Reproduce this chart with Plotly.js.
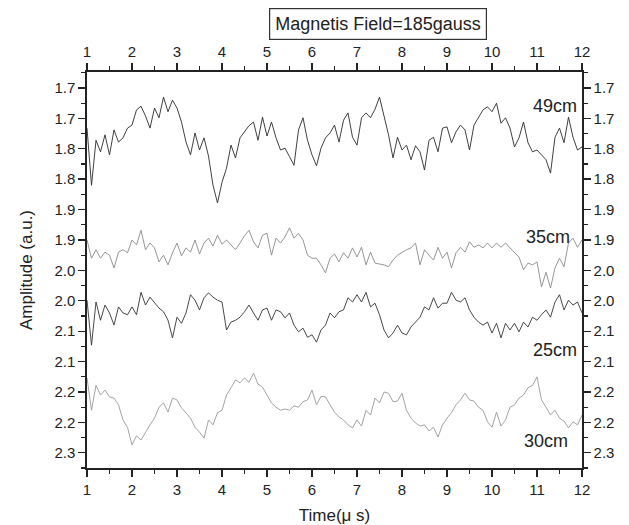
<!DOCTYPE html>
<html><head><meta charset="utf-8">
<script src="https://cdn.plot.ly/plotly-3.0.1.min.js"></script>
<style>html,body{margin:0;padding:0;background:#fff}#chart{width:629px;height:525px}</style>
</head><body><div id="chart"></div>
<script>
// time axis: samples every 0.1 µs from 1 to 12
const t0 = 1.0, dt = 0.1;
const s49 = [1.766,1.860,1.786,1.805,1.777,1.810,1.769,1.789,1.782,1.766,
1.761,1.736,1.730,1.746,1.766,1.733,1.749,1.715,1.739,1.720,
1.733,1.756,1.789,1.810,1.774,1.802,1.782,1.812,1.860,1.889,
1.855,1.832,1.794,1.815,1.782,1.772,1.762,1.756,1.786,1.748,
1.779,1.756,1.782,1.802,1.799,1.813,1.827,1.769,1.749,1.786,
1.810,1.828,1.799,1.782,1.774,1.761,1.789,1.753,1.741,1.781,
1.794,1.749,1.741,1.749,1.735,1.715,1.744,1.777,1.815,1.781,
1.802,1.794,1.818,1.795,1.805,1.835,1.786,1.781,1.805,1.766,
1.764,1.790,1.772,1.761,1.769,1.802,1.761,1.748,1.736,1.731,
1.739,1.725,1.758,1.749,1.766,1.797,1.782,1.756,1.790,1.805,
1.802,1.810,1.818,1.840,1.781,1.766,1.790,1.748,1.781,1.802,1.797];
const s35 = [1.950,1.980,1.966,1.980,1.970,1.975,1.996,1.970,1.966,1.971,
1.950,1.958,1.934,1.966,1.955,1.963,1.986,1.975,1.991,1.971,
1.955,1.976,1.963,1.970,1.950,1.973,1.955,1.947,1.960,1.942,
1.957,1.950,1.958,1.966,1.955,1.943,1.934,1.953,1.963,1.942,
1.939,1.975,1.947,1.955,1.945,1.930,1.947,1.939,1.950,1.975,
1.980,1.980,1.991,2.004,1.980,1.973,1.986,1.971,1.980,1.963,
1.978,1.962,1.991,1.970,1.988,1.989,1.991,1.994,1.983,1.975,
1.970,1.966,1.963,1.955,1.991,1.966,1.975,1.983,1.962,1.980,
1.970,1.996,1.971,1.962,1.970,1.953,1.962,1.958,1.963,1.955,
1.963,1.955,1.962,1.955,1.963,1.970,1.978,1.999,1.988,1.991,
1.986,2.027,2.003,2.029,1.996,1.980,1.994,1.955,1.947,1.962,1.950];
const s25 = [2.049,2.123,2.052,2.082,2.057,2.070,2.090,2.060,2.070,2.073,
2.060,2.073,2.036,2.057,2.044,2.054,2.062,2.068,2.082,2.111,
2.077,2.087,2.070,2.040,2.049,2.065,2.045,2.037,2.044,2.049,
2.052,2.098,2.085,2.082,2.077,2.068,2.057,2.070,2.082,2.065,
2.062,2.082,2.065,2.068,2.078,2.070,2.090,2.101,2.095,2.110,
2.106,2.118,2.098,2.090,2.070,2.078,2.068,2.065,2.045,2.052,
2.040,2.052,2.036,2.060,2.054,2.073,2.098,2.111,2.103,2.090,
2.103,2.106,2.093,2.085,2.077,2.060,2.065,2.045,2.062,2.054,
2.054,2.036,2.049,2.052,2.045,2.065,2.077,2.085,2.090,2.085,
2.103,2.087,2.111,2.087,2.098,2.087,2.101,2.085,2.093,2.077,
2.082,2.073,2.065,2.077,2.052,2.040,2.065,2.049,2.057,2.052,2.070];
const s30 = [2.177,2.230,2.189,2.205,2.197,2.208,2.210,2.221,2.246,2.258,
2.287,2.272,2.279,2.266,2.254,2.243,2.225,2.218,2.233,2.210,
2.213,2.226,2.234,2.243,2.258,2.266,2.276,2.246,2.254,2.234,
2.230,2.205,2.193,2.180,2.185,2.177,2.184,2.169,2.187,2.192,
2.205,2.218,2.225,2.230,2.228,2.230,2.223,2.225,2.216,2.213,
2.197,2.221,2.207,2.208,2.221,2.233,2.241,2.246,2.254,2.259,
2.246,2.256,2.230,2.238,2.210,2.218,2.200,2.202,2.216,2.215,
2.202,2.230,2.243,2.251,2.256,2.254,2.264,2.258,2.274,2.254,
2.243,2.234,2.221,2.213,2.202,2.213,2.215,2.225,2.230,2.249,
2.258,2.233,2.256,2.246,2.225,2.221,2.210,2.205,2.193,2.189,
2.175,2.213,2.225,2.238,2.230,2.243,2.248,2.259,2.249,2.254,2.238];
const seriesNames = ["49cm","35cm","25cm","30cm"];
const xTicks = [1,2,3,4,5,6,7,8,9,10,11,12];
const yTickVals = [1.70,1.75,1.80,1.85,1.90,1.95,2.00,2.05,2.10,2.15,2.20,2.25,2.30];
const yTickText = ["1.7","1.7","1.8","1.8","1.9","1.9","2.0","2.0","2.1","2.1","2.2","2.2","2.3"];
const titleText = "Magnetis Field=185gauss";

const time = s49.map((_, i) => +(t0 + i * dt).toFixed(2));
const colors = ["#2a2a2a", "#8a8a8a", "#333333", "#999999"];
const all = [s49, s35, s25, s30];
const traces = all.map((s, k) => ({
  x: time, y: s, type: "scatter", mode: "lines", name: seriesNames[k],
  xaxis: k === 1 ? "x2" : "x", yaxis: k === 1 ? "y2" : "y",
  line: {color: colors[k], width: 0.9}, hoverinfo: "skip"
}));

const fam = "Liberation Sans, Arial, sans-serif";
const font = {family: fam, size: 15, color: "#222"};
const xBase = {
  range: [1, 12], tickmode: "array", tickvals: xTicks, ticks: "outside", ticklen: 7,
  tickwidth: 1.4, tickcolor: "#222", showline: true, linecolor: "#222", linewidth: 1.6,
  showgrid: false, zeroline: false, tickfont: font,
  minor: {tickmode: "linear", tick0: 1, dtick: 0.5, ticks: "outside", ticklen: 4, tickwidth: 1.2, tickcolor: "#222"}
};
const yBase = {
  range: [2.325, 1.6737], tickmode: "array", tickvals: yTickVals, ticktext: yTickText,
  ticks: "outside", ticklen: 7, tickwidth: 1.4, tickcolor: "#222", showline: true,
  linecolor: "#222", linewidth: 1.6, showgrid: false, zeroline: false, tickfont: font,
  minor: {tickmode: "linear", tick0: 1.7, dtick: 0.025, ticks: "outside", ticklen: 4, tickwidth: 1.2, tickcolor: "#222"}
};
const layout = {
  width: 629, height: 525,
  margin: {l: 87, r: 47, t: 72, b: 57},
  paper_bgcolor: "#fff", plot_bgcolor: "#fff",
  showlegend: false,
  font: font,
  xaxis: Object.assign({}, xBase, {anchor: "y", title: {text: "Time(\u03bc s)", font: {family: fam, size: 17, color: "#222"}, standoff: 12}}),
  xaxis2: Object.assign({}, xBase, {overlaying: "x", side: "top", anchor: "y2"}),
  yaxis: Object.assign({}, yBase, {anchor: "x", title: {text: "Amplitude (a.u.)", font: {family: fam, size: 17, color: "#222"}, standoff: 17}}),
  yaxis2: Object.assign({}, yBase, {overlaying: "y", side: "right", anchor: "x2"}),
  annotations: [
    {text: titleText, xref: "paper", yref: "paper", x: 0.588, y: 1.121, xanchor: "center", yanchor: "middle", showarrow: false,
     font: {family: fam, size: 18, color: "#222"}, bordercolor: "#333", borderwidth: 1.2, borderpad: 5, bgcolor: "#fff"},
    {text: seriesNames[0], x: 11.4, y: 1.7296, showarrow: false, font: {family: fam, size: 18, color: "#222"}},
    {text: seriesNames[1], x: 11.244, y: 1.945, showarrow: false, font: {family: fam, size: 18, color: "#222"}},
    {text: seriesNames[2], x: 11.4, y: 2.131, showarrow: false, font: {family: fam, size: 18, color: "#222"}},
    {text: seriesNames[3], x: 11.2, y: 2.281, showarrow: false, font: {family: fam, size: 18, color: "#222"}}
  ]
};
Plotly.newPlot("chart", traces, layout, {displayModeBar: false, staticPlot: true});
</script></body></html>
